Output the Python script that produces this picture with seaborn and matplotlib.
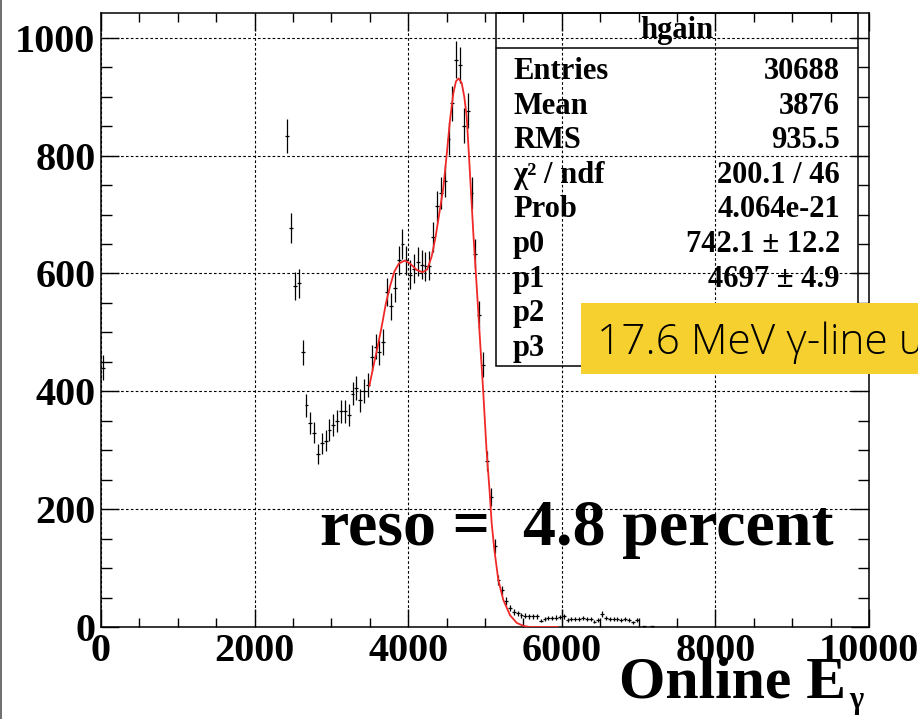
import numpy as np
import matplotlib
matplotlib.use("Agg")
import matplotlib.pyplot as plt
import seaborn as sns
from matplotlib.patches import Rectangle
from matplotlib.lines import Line2D
from matplotlib.ticker import MultipleLocator

# ---- histogram "hgain": online gamma energy, 50-unit bins ----
bin_width = 50
first_center = 2425
counts = [834, 677, 579, 583, 466, 376, 346, 330, 293, 312,
          316, 334, 343, 349, 366, 366, 360, 396, 405, 385,
          401, 411, 458, 476, 466, 483, 568, 544, 576, 622,
          650, 622, 598, 608, 620, 615, 612, 613, 662, 714,
          737, 757, 829, 889, 963, 954, 851, 876, 737, 633,
          530, 445, 282, 221, 137, 80, 62, 44, 32, 25,
          23, 20, 19, 18, 18, 18, 11, 14, 15, 15,
          16, 17, 18, 12, 13, 14, 13, 15, 14, 13,
          9, 12, 22, 15, 14, 13, 14, 12, 13, 12,
          8, 12]
# isolated bins outside the main spectrum
sparse_centers = [25, 7075, 7175]
sparse_counts = [440, 1, 1]

# ---- fitted curve (14.6 + 17.6 MeV lines) ----
fit_x = [3494, 3546, 3598, 3655, 3711, 3763, 3819, 3880, 3958, 4023,
         4110, 4188, 4249, 4306, 4358, 4405, 4457, 4500, 4544, 4588,
         4622, 4657, 4697, 4730, 4762, 4792, 4848, 4892, 4935, 4978,
         5020, 5058, 5087, 5122, 5173, 5238, 5326, 5413, 5499, 5580,
         5700, 5950]
fit_y = [409, 442, 473, 510, 550, 578, 603, 617, 622, 617,
         606, 602, 607, 629, 663, 702, 745, 800, 860, 906,
         926, 931, 923, 900, 866, 798, 668, 578, 487, 397,
         300, 234, 176, 131, 80, 46, 20, 7, 2, 0,
         0, 0]

# ---- statistics box ----
stat_title = "hgain"
stat_labels = ["Entries", "Mean", "RMS", "\u03c7\u00b2 / ndf", "Prob", "p0", "p1", "p2", "p3"]
stat_values = ["30688", "3876", "935.5", "200.1 / 46", "4.064e-21",
               "742.1 \u00b1 12.2", "4697 \u00b1 4.9", "", ""]

x_ticks = [0, 2000, 4000, 6000, 8000, 10000]
y_ticks = [0, 200, 400, 600, 800, 1000]

sns.set_theme(style="ticks")
plt.rcParams["font.family"] = ["Liberation Serif", "DejaVu Serif"]
plt.rcParams["font.weight"] = "bold"

W, H = 918, 719
fig = plt.figure(figsize=(W / 100, H / 100), dpi=100)
fig.patch.set_facecolor("white")


def fx(px):
    return px / W


def fy(py):
    return 1 - py / H


ax = fig.add_axes([fx(101), fy(627), (869 - 101) / W, (627 - 13) / H])
ax.set_facecolor("white")
ax.set_xlim(0, 10000)
ax.set_ylim(0, 1042)

# data points with Poisson errors
centers = [first_center + bin_width * i for i in range(len(counts))] + sparse_centers
values = counts + sparse_counts
ax.errorbar(centers, values, yerr=np.sqrt(values), xerr=bin_width / 2,
            fmt="none", ecolor="black", elinewidth=0.9, capsize=0, zorder=3,
            clip_on=False)

# fit function
sns.lineplot(x=fit_x, y=fit_y, ax=ax, color="#f02828", linewidth=1.3,
             sort=False, estimator=None, zorder=4)

# axes, ticks, grid
ax.set_xticks(x_ticks)
ax.set_yticks(y_ticks)
ax.xaxis.set_minor_locator(MultipleLocator(500))
ax.yaxis.set_minor_locator(MultipleLocator(50))
ax.tick_params(which="both", direction="in", top=True, right=True,
               color="black", width=1.0, labelsize=29, labelcolor="black")
ax.tick_params(axis="x", which="major", length=13, pad=4)
ax.tick_params(axis="x", which="minor", length=6.5)
ax.tick_params(axis="y", which="major", length=13, pad=4)
ax.tick_params(axis="y", which="minor", length=8)
ax.grid(True, which="major", color="black", linewidth=0.8,
        linestyle=(0, (2.4, 2.0)))
ax.set_axisbelow(True)
for sp in ax.spines.values():
    sp.set_color("black")
    sp.set_linewidth(1.1)
    sp.set_visible(True)
for lab in ax.get_xticklabels() + ax.get_yticklabels():
    lab.set_fontweight("bold")
ax.set_xlabel("")
ax.set_ylabel("")

# statistics box (transparent, grid shows through)
fig.add_artist(Rectangle((fx(496), fy(366)), (858 - 496) / W, (366 - 13) / H,
                         transform=fig.transFigure, fill=False,
                         edgecolor="black", linewidth=1.1, zorder=5))
fig.add_artist(Line2D([fx(496), fx(858)], [fy(48), fy(48)],
                      transform=fig.transFigure, color="black", linewidth=1.1, zorder=5))
fig.text(fx(677), fy(38), stat_title, ha="center", va="baseline",
         fontsize=22, fontweight="bold", color="black", zorder=6)
for i, (lab, val) in enumerate(zip(stat_labels, stat_values)):
    base = 79 + 34.6 * i
    fig.text(fx(513), fy(base), lab, ha="left", va="baseline",
             fontsize=22, fontweight="bold", color="black", zorder=6)
    if val:
        fig.text(fx(840), fy(base), val, ha="right", va="baseline",
                 fontsize=22, fontweight="bold", color="black", zorder=6)

# resolution annotation
fig.text(fx(320), fy(545), "reso =  4.8 percent", ha="left", va="baseline",
         fontsize=47.5, fontweight="bold", color="black", zorder=6)

# axis title
fig.text(fx(846), fy(697), "Online E", ha="right", va="baseline",
         fontsize=43, fontweight="bold", color="black", zorder=6)
fig.text(fx(849), fy(708), "\u03b3", ha="left", va="baseline",
         fontsize=22, fontweight="bold", color="black", zorder=6)

# yellow slide label
fig.add_artist(Rectangle((fx(581), fy(374)), (W - 581) / W + 0.01, (374 - 303) / H,
                         transform=fig.transFigure, facecolor="#f6d02f",
                         edgecolor="none", zorder=7))
fig.text(fx(597), fy(354), "17.6 MeV \u03b3-line u", ha="left", va="baseline",
         fontsize=30.5, fontweight="light", family=["Open Sans", "DejaVu Sans"],
         color="black", zorder=8)

# slide edge
fig.add_artist(Line2D([fx(1), fx(1)], [0, 1], transform=fig.transFigure,
                      color="#555555", linewidth=1.2, zorder=9))

fig.savefig("out.png", dpi=100, facecolor="white")
